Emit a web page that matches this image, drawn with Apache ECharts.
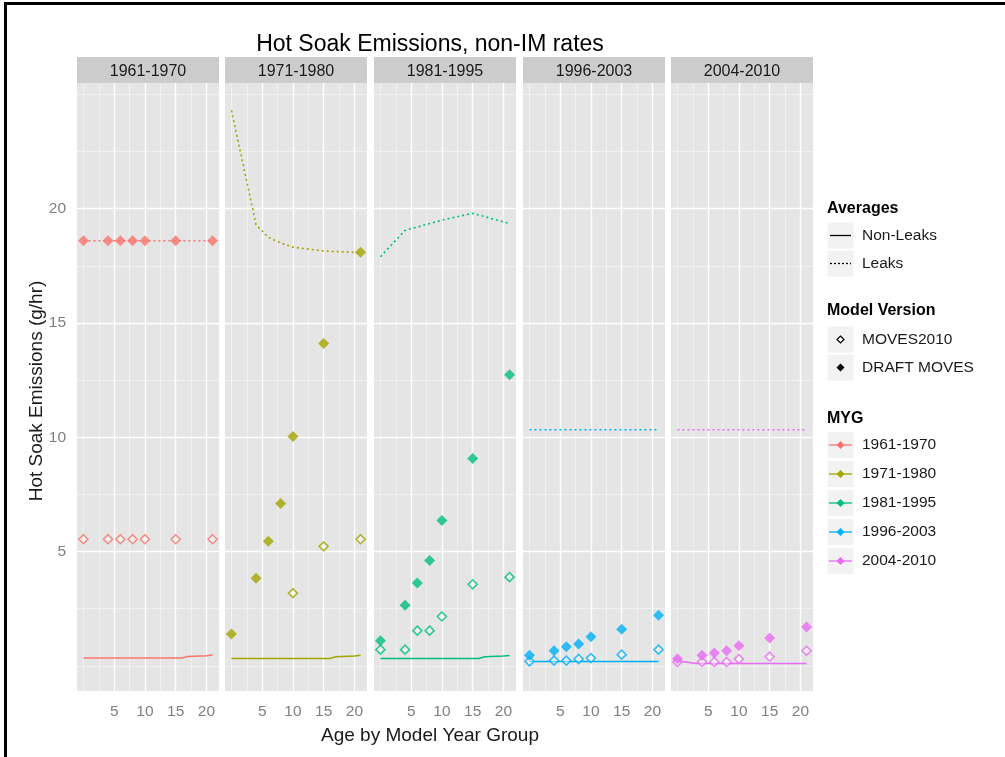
<!DOCTYPE html>
<html><head><meta charset="utf-8">
<script src="https://cdn.jsdelivr.net/npm/echarts@6/dist/echarts.min.js"></script>
<style>html,body{margin:0;padding:0;background:#fff}#c{width:1005px;height:757px}</style>
</head><body><div id="c"></div>
<script>
// ---------------- data ----------------
const groups = ['1961-1970', '1971-1980', '1981-1995', '1996-2003', '2004-2010'];
const ages = [0, 4, 6, 8, 10, 15, 21];
const nonLeakAges = [0, 3, 16, 17, 20, 21];

const draft1961 = [18.6, 18.6, 18.6, 18.6, 18.6, 18.6, 18.6];
const draft1971 = [1.39, 3.83, 5.45, 7.10, 10.03, 14.10, 18.10];
const draft1981 = [1.10, 2.65, 3.62, 4.61, 6.36, 9.07, 12.74];
const draft1996 = [0.46, 0.66, 0.84, 0.96, 1.27, 1.60, 2.21];
const draft2004 = [0.31, 0.46, 0.56, 0.66, 0.88, 1.22, 1.70];

const moves1961 = [5.54, 5.54, 5.54, 5.54, 5.54, 5.54, 5.54];
const moves1971 = [null, null, null, null, 3.18, 5.23, 5.54];
const moves1981 = [0.71, 0.71, 1.54, 1.54, 2.16, 3.57, 3.88];
const moves1996 = [0.20, 0.23, 0.23, 0.30, 0.34, 0.49, 0.71];
const moves2004 = [0.17, 0.17, 0.17, 0.17, 0.30, 0.40, 0.66];

const leak1961 = [18.6, 18.6, 18.6, 18.6, 18.6, 18.6, 18.6];
const leak1971 = [24.3, 19.3, 18.75, 18.5, 18.32, 18.15, 18.08];
const leak1981 = [17.9, 19.05, 19.2, 19.35, 19.5, 19.8, 19.35];
const leak1996 = [10.33, 10.33, 10.33, 10.33, 10.33, 10.33, 10.33];
const leak2004 = [10.33, 10.33, 10.33, 10.33, 10.33, 10.33, 10.33];

const nonLeak1961 = [0.34, 0.34, 0.34, 0.41, 0.44, 0.47];
const nonLeak1971 = [0.32, 0.32, 0.32, 0.40, 0.43, 0.46];
const nonLeak1981 = [0.32, 0.32, 0.32, 0.40, 0.43, 0.45];
const nonLeak1996 = [0.19, 0.19, 0.19, 0.19, 0.19, 0.19];
const nonLeak2004 = [0.22, 0.10, 0.10, 0.10, 0.10, 0.10];

const xTicks = [5, 10, 15, 20];
const xMinor = [0, 2.5, 7.5, 12.5, 17.5];
const yTicks = [5, 10, 15, 20];
const yMinor = [0, 2.5, 7.5, 12.5, 17.5, 22.5, 25];

const draftData = [draft1961, draft1971, draft1981, draft1996, draft2004];
const movesData = [moves1961, moves1971, moves1981, moves1996, moves2004];
const leakData = [leak1961, leak1971, leak1981, leak1996, leak2004];
const nonLeakData = [nonLeak1961, nonLeak1971, nonLeak1981, nonLeak1996, nonLeak2004];

// ---------------- style / layout ----------------
const colors = ['#F8766D', '#A3A500', '#00BF7D', '#00B0F6', '#E76BF3'];
const FONT = 'Liberation Sans, Arial, sans-serif';
const panelLefts = [77, 225, 374, 523, 671];
const panelW = 142;
const panelTop = 83;
const panelH = 608;
const stripTop = 57;
const stripH = 26;

function pairs(xs, ys) {
  const out = [];
  xs.forEach((x, i) => { if (ys[i] != null) out.push([x, ys[i]]); });
  return out;
}

const grids = [], xAxes = [], yAxes = [], series = [];
const majorLine = { color: '#FFFFFF', width: 1.4, type: 'solid' };
const minorLine = { color: '#F4F4F4', width: 0.8, type: 'solid' };

groups.forEach((g, i) => {
  grids.push({ left: panelLefts[i], top: panelTop, width: panelW, height: panelH,
    show: true, backgroundColor: '#E5E5E5', borderWidth: 0 });
  xAxes.push({ type: 'value', gridIndex: i, min: -1.05, max: 22.05,
    axisLine: { show: false }, splitLine: { show: false },
    axisTick: { show: true, customValues: xTicks, length: 6, lineStyle: { color: '#7F7F7F', width: 1 } },
    axisLabel: { show: true, customValues: xTicks, color: '#7F7F7F', fontSize: 15.5, fontFamily: FONT, margin: 13 } });
  yAxes.push({ type: 'value', gridIndex: i, min: -1.1, max: 25.5,
    axisLine: { show: false }, splitLine: { show: false },
    axisTick: { show: i === 0, customValues: yTicks, length: 6, lineStyle: { color: '#7F7F7F', width: 1 } },
    axisLabel: { show: i === 0, customValues: yTicks, color: '#7F7F7F', fontSize: 15.5, fontFamily: FONT, margin: 11 } });

  const ml = [];
  xMinor.forEach(v => ml.push({ xAxis: v, lineStyle: minorLine }));
  yMinor.forEach(v => ml.push({ yAxis: v, lineStyle: minorLine }));
  xTicks.forEach(v => ml.push({ xAxis: v, lineStyle: majorLine }));
  yTicks.forEach(v => ml.push({ yAxis: v, lineStyle: majorLine }));
  series.push({ type: 'line', xAxisIndex: i, yAxisIndex: i, z: 1, silent: true,
    data: [[0, 0]], showSymbol: false, symbol: 'none', lineStyle: { opacity: 0 },
    markLine: { z: 1, silent: true, symbol: ['none', 'none'], label: { show: false }, animation: false,
      emphasis: { disabled: true }, data: ml } });

  series.push({ name: g + ' non-leaks', type: 'line', xAxisIndex: i, yAxisIndex: i, z: 10,
    data: pairs(nonLeakAges, nonLeakData[i]), showSymbol: false, symbol: 'none',
    lineStyle: { color: colors[i], width: 1.5, type: 'solid' } });
  series.push({ name: g + ' leaks', type: 'line', xAxisIndex: i, yAxisIndex: i, z: 10,
    data: pairs(ages, leakData[i]), showSymbol: false, symbol: 'none',
    lineStyle: { color: colors[i], width: 1.6, type: [2, 3] } });
  series.push({ name: g + ' MOVES2010', type: 'scatter', xAxisIndex: i, yAxisIndex: i, z: 11,
    data: pairs(ages, movesData[i]), symbol: 'diamond', symbolSize: 9,
    itemStyle: { color: 'rgba(255,255,255,0.55)', borderColor: colors[i], borderWidth: 1.6 } });
  series.push({ name: g + ' DRAFT MOVES', type: 'scatter', xAxisIndex: i, yAxisIndex: i, z: 12,
    data: pairs(ages, draftData[i]), symbol: 'diamond', symbolSize: 11,
    itemStyle: { color: colors[i] } });
});

// ---------------- graphics (frame, title, strips, legend) ----------------
const graphic = [];
graphic.push({ type: 'rect', shape: { x: 5.5, y: 3.5, width: 1010, height: 770 },
  style: { fill: 'none', stroke: '#000', lineWidth: 3 }, z: 100 });
graphic.push({ type: 'text', x: 430, y: 45, style: { text: 'Hot Soak Emissions, non-IM rates',
  font: '23px ' + FONT, fill: '#000', align: 'center', verticalAlign: 'middle' } });
graphic.push({ type: 'text', x: 430, y: 736, style: { text: 'Age by Model Year Group',
  font: '19px ' + FONT, fill: '#1a1a1a', align: 'center', verticalAlign: 'middle' } });
graphic.push({ type: 'text', x: 37, y: 391, rotation: Math.PI / 2, style: { text: 'Hot Soak Emissions (g/hr)',
  font: '19px ' + FONT, fill: '#1a1a1a', align: 'center', verticalAlign: 'middle' } });
groups.forEach((g, i) => {
  graphic.push({ type: 'rect', shape: { x: panelLefts[i], y: stripTop, width: panelW, height: stripH },
    style: { fill: '#CCCCCC' } });
  graphic.push({ type: 'text', x: panelLefts[i] + panelW / 2, y: stripTop + stripH / 2 + 1.5,
    style: { text: g, font: '16px ' + FONT, fill: '#1a1a1a', align: 'center', verticalAlign: 'middle' } });
});

const LX = 827, KW = 27, TX = 862;
function legTitle(t, y) {
  graphic.push({ type: 'text', x: LX, y: y, style: { text: t, font: 'bold 16px ' + FONT, fill: '#000', verticalAlign: 'middle' } });
}
function legKey(cy) {
  graphic.push({ type: 'rect', shape: { x: LX, y: cy - 13.5, width: KW, height: 27 }, style: { fill: '#F2F2F2', stroke: '#fff', lineWidth: 1 } });
}
function legText(t, cy) {
  graphic.push({ type: 'text', x: TX, y: cy, style: { text: t, font: '15.5px ' + FONT, fill: '#1a1a1a', verticalAlign: 'middle' } });
}
function diamond(cx, cy, r, fill, stroke) {
  graphic.push({ type: 'polygon', shape: { points: [[cx, cy - r], [cx + r, cy], [cx, cy + r], [cx - r, cy]] },
    style: { fill: fill, stroke: stroke, lineWidth: stroke ? 1.2 : 0 }, z: 5 });
}
legTitle('Averages', 208.5);
[[235.5, 'Non-Leaks', null], [263.5, 'Leaks', [2, 2]]].forEach(([cy, t, dash]) => {
  legKey(cy);
  graphic.push({ type: 'line', shape: { x1: LX + 3, y1: cy, x2: LX + KW - 3, y2: cy },
    style: { stroke: '#000', lineWidth: 1.3, lineDash: dash || null }, z: 5 });
  legText(t, cy);
});
legTitle('Model Version', 310.5);
legKey(339.5); diamond(LX + 13.5, 339.5, 3.5, '#fff', '#000'); legText('MOVES2010', 339.5);
legKey(367.5); diamond(LX + 13.5, 367.5, 4, '#000', null); legText('DRAFT MOVES', 367.5);
legTitle('MYG', 419);
const mygY = [445, 474, 503, 532, 561];
groups.forEach((g, i) => {
  const cy = mygY[i];
  legKey(cy);
  graphic.push({ type: 'line', shape: { x1: LX + 2, y1: cy, x2: LX + KW - 2, y2: cy },
    style: { stroke: colors[i], lineWidth: 1.3 }, z: 5 });
  diamond(LX + 13.5, cy, 4, colors[i], null);
  legText(g, cy);
});

const chart = echarts.init(document.getElementById('c'), null, { renderer: 'canvas' });
chart.setOption({
  animation: false,
  backgroundColor: '#FFFFFF',
  textStyle: { fontFamily: FONT },
  grid: grids, xAxis: xAxes, yAxis: yAxes, series: series, graphic: graphic
});
</script></body></html>
